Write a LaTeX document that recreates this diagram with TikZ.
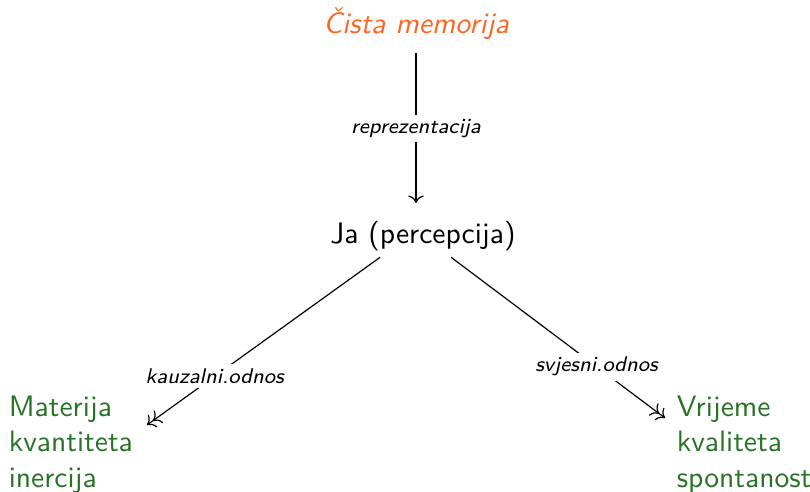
\documentclass[tikz,border=0pt]{standalone}
\usepackage{fontspec}
\usepackage{tikz}
\usetikzlibrary{calc}
\usetikzlibrary{arrows.meta, positioning}

\definecolor{memcol}{RGB}{255,102,34}
\definecolor{polcol}{RGB}{38,115,38}

\tikzset{
  pojam/.style={inner sep=0.75pt, font=\sffamily},
  odnos/.style={fill=white, inner sep=1.5pt, font=\sffamily\fontsize{7.2pt}{8.6pt}\selectfont\itshape},
  pol/.style={pojam, anchor=north west, align=left, text=polcol},
}

\begin{document}
\begin{tikzpicture}[x=0.338pt,y=0.338pt,yscale=-1,xscale=1]
\path[use as bounding box] (0,0) rectangle (810,491);

% Text Node
\node (mem) [pojam, text=memcol, font=\sffamily\itshape] at (416,24) {Čista memorija};
% Text Node
\node (ja) [pojam, inner sep=2pt] at (423,236) {Ja (percepcija)};
% Text Node
\node (mat) [pol] at (6,393) {Materija\\kvantiteta\\inercija};
% Text Node
\node (vri) [pol] at (674,393) {Vrijeme\\kvaliteta\\spontanost};

\coordinate (matul) at (147,425);
\coordinate (vriul) at (665,418);

%Straight Lines
\draw [->, shorten <=3.5pt, shorten >=4pt] (mem.south) -- node [odnos] {reprezentacija} (mem |- ja.north);
%Straight Lines
\draw [->>] ([xshift=-14.5pt]ja.south) -- node [odnos, pos=0.71] {kauzalni.odnos} (matul);
%Straight Lines
\draw [->>] ([xshift=9.5pt]ja.south) -- node [odnos, pos=0.68] {svjesni.odnos} (vriul);

\end{tikzpicture}
\end{document}
